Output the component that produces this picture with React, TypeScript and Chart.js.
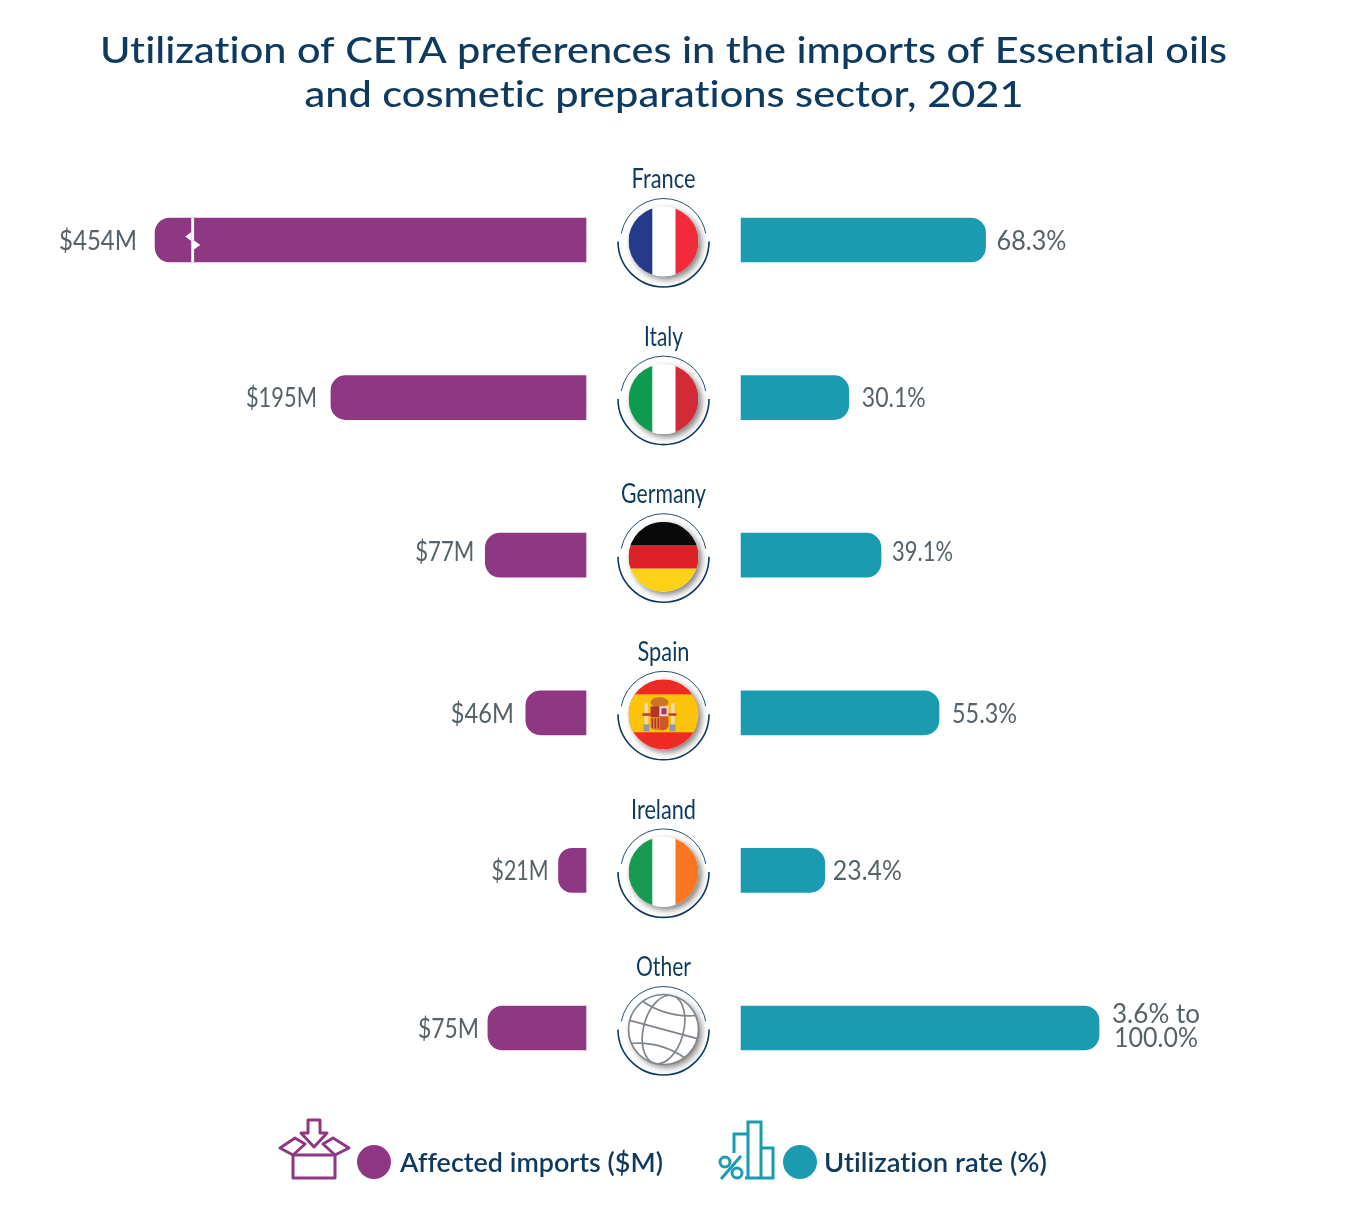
import React, { useEffect, useRef } from "react";
import { Chart, registerables, LinearScale } from "chart.js";

const countries = ["France", "Italy", "Germany", "Spain", "Ireland", "Other"];
const affectedImports = [454, 195, 77, 46, 21, 75];
const utilizationRate = [68.3, 30.1, 39.1, 55.3, 23.4, 100];
const affectedLabels = ["$454M", "$195M", "$77M", "$46M", "$21M", "$75M"];
const utilizationLabels = [["68.3%"], ["30.1%"], ["39.1%"], ["55.3%"], ["23.4%"], ["3.6% to", "100.0%"]];
const titleLines = [
  "Utilization of CETA preferences in the imports of Essential oils",
  "and cosmetic preparations sector, 2021",
];
const seriesNames = ["Affected imports ($M)", "Utilization rate (%)"];

const PURPLE = "#8e3883";
const TEAL = "#1a9bb0";
const NAVY = "#0f3a5f";
const GREY = "#566168";
const FONT = "Lato, sans-serif";

// Axis with a break: values beyond the break are compressed (the first bar is cut).
const BREAK_AT = 301;
const BREAK_K = 0.186;
class BrokenScale extends LinearScale {
  static id = "broken";
  static defaults = LinearScale.defaults;
  getPixelForValue(v: number) {
    const c = v > BREAK_AT ? BREAK_AT + (v - BREAK_AT) * BREAK_K : v;
    return super.getPixelForValue(c);
  }
}
Chart.register(...registerables, BrokenScale);

function fitText(ctx: any, text: string, x: number, y: number, width: number, size: number, weight: number, color: string, align = "center") {
  ctx.save();
  ctx.font = `${weight} ${size}px ${FONT}`;
  ctx.letterSpacing = "0.01px"; // switches off the "ti" ligatures
  ctx.fillStyle = color;
  ctx.textBaseline = "middle";
  ctx.textAlign = "left";
  const m = ctx.measureText(text).width;
  const s = width / m;
  const left = align === "center" ? x - width / 2 : align === "right" ? x - width : x;
  ctx.translate(left, y);
  ctx.scale(s, 1);
  ctx.fillText(text, 0, 0);
  ctx.restore();
}

function drawFlag(ctx: any, name: string, cx: number, cy: number) {
  const r = 35;
  ctx.save();
  ctx.shadowColor = "rgba(0,0,0,0.5)";
  ctx.shadowBlur = 6;
  ctx.shadowOffsetX = 3;
  ctx.shadowOffsetY = 3;
  ctx.fillStyle = "#fff";
  ctx.beginPath();
  ctx.arc(cx, cy, r, 0, Math.PI * 2);
  ctx.fill();
  ctx.restore();

  ctx.save();
  ctx.beginPath();
  ctx.arc(cx, cy, r, 0, Math.PI * 2);
  ctx.clip();
  const L = cx - r;
  const T = cy - r;
  const D = 2 * r;
  const vert = (a: string, b: string, c: string) => {
    ctx.fillStyle = a; ctx.fillRect(L, T, 24, D);
    ctx.fillStyle = b; ctx.fillRect(L + 24, T, 23, D);
    ctx.fillStyle = c; ctx.fillRect(L + 47, T, 23, D);
  };
  if (name === "France") vert("#253a8a", "#ffffff", "#ef2b3c");
  if (name === "Italy") vert("#0f9b4f", "#ffffff", "#d22b38");
  if (name === "Ireland") vert("#169b50", "#ffffff", "#f97720");
  if (name === "Germany") {
    ctx.fillStyle = "#0a0a0a"; ctx.fillRect(L, T, D, 24);
    ctx.fillStyle = "#dd1f26"; ctx.fillRect(L, T + 24, D, 23);
    ctx.fillStyle = "#fdd116"; ctx.fillRect(L, T + 47, D, 23);
  }
  if (name === "Spain") {
    ctx.fillStyle = "#ee2a24"; ctx.fillRect(L, T, D, D);
    ctx.fillStyle = "#fcc30b"; ctx.fillRect(L, T + 15, D, 38);
    // crest
    const x0 = cx - 4, y0 = cy + 1;
    ctx.fillStyle = "#c9762a"; ctx.beginPath(); ctx.ellipse(x0, y0 - 13, 9, 5, 0, 0, Math.PI * 2); ctx.fill();
    ctx.fillStyle = "#b5342a"; ctx.fillRect(x0 - 9, y0 - 9, 9, 11);
    ctx.fillStyle = "#e9d6c8"; ctx.fillRect(x0, y0 - 9, 9, 10);
    ctx.fillStyle = "#a8366b"; ctx.fillRect(x0 + 2, y0 - 7, 5, 6);
    ctx.fillStyle = "#d98a2b"; ctx.beginPath(); ctx.roundRect(x0 - 9, y0 + 2, 9, 13, [0, 0, 0, 5]); ctx.fill();
    ctx.fillStyle = "#d0572a"; ctx.beginPath(); ctx.roundRect(x0, y0 + 1, 9, 14, [0, 0, 5, 0]); ctx.fill();
    ctx.fillStyle = "#b5342a";
    for (let i = 0; i < 3; i++) ctx.fillRect(x0 - 8 + i * 3, y0 + 3, 1.5, 10);
    ctx.fillStyle = "#8f9aa8";
    ctx.fillRect(x0 - 16, y0 + 9, 6, 7); ctx.fillRect(x0 + 10, y0 + 9, 6, 7);
    ctx.fillStyle = "#e8d9b8";
    ctx.fillRect(x0 - 15, y0 - 12, 3.5, 21); ctx.fillRect(x0 + 11.5, y0 - 12, 3.5, 21);
    ctx.fillStyle = "#c03a2b";
    ctx.fillRect(x0 - 17, y0 - 2, 8, 2.5); ctx.fillRect(x0 + 9, y0 - 2, 8, 2.5);
  }
  if (name === "Other") {
    ctx.strokeStyle = "#7f858a";
    ctx.lineWidth = 1.7;
    ctx.translate(cx, cy);
    ctx.rotate((15 * Math.PI) / 180);
    ctx.beginPath(); ctx.ellipse(0, 0, 20, 35, 0, 0, Math.PI * 2); ctx.stroke();
    ctx.beginPath(); ctx.moveTo(-35, 0); ctx.lineTo(35, 0); ctx.stroke();
    ctx.beginPath(); ctx.moveTo(-28, -22); ctx.quadraticCurveTo(0, -12, 28, -22); ctx.stroke();
    ctx.beginPath(); ctx.moveTo(-28, 22); ctx.quadraticCurveTo(0, 12, 28, 22); ctx.stroke();
  }
  ctx.restore();

  if (name === "Other") {
    ctx.save();
    ctx.strokeStyle = "#7f858a";
    ctx.lineWidth = 1.7;
    ctx.beginPath(); ctx.arc(cx, cy, r, 0, Math.PI * 2); ctx.stroke();
    ctx.restore();
  }

  // ring
  ctx.save();
  ctx.strokeStyle = NAVY;
  ctx.lineWidth = 0.9;
  ctx.beginPath(); ctx.arc(cx, cy, 43, Math.PI * 1.06, Math.PI * 1.94); ctx.stroke();
  ctx.lineWidth = 1.6;
  ctx.beginPath(); ctx.arc(cx, cy, 45.5, 0, Math.PI); ctx.stroke();
  ctx.restore();
}

function drawBoxIcon(ctx: any) {
  ctx.save();
  ctx.strokeStyle = PURPLE;
  ctx.lineWidth = 3;
  ctx.lineJoin = "round";
  const poly = (pts: number[][], close = true) => {
    ctx.beginPath();
    pts.forEach((p, i) => (i ? ctx.lineTo(p[0], p[1]) : ctx.moveTo(p[0], p[1])));
    if (close) ctx.closePath();
    ctx.stroke();
  };
  poly([[308, 1120], [320, 1120], [320, 1133], [327, 1133], [314, 1147], [301, 1133], [308, 1133]]);
  poly([[293, 1155], [335, 1155], [335, 1178], [293, 1178]]);
  poly([[293, 1155], [280, 1148], [295, 1138], [305, 1144]]);
  poly([[335, 1155], [349, 1148], [333, 1138], [323, 1144]]);
  ctx.restore();
}

function drawBarsIcon(ctx: any) {
  ctx.save();
  ctx.strokeStyle = TEAL;
  ctx.lineWidth = 3;
  const poly = (pts: number[][], close = false) => {
    ctx.beginPath();
    pts.forEach((p, i) => (i ? ctx.lineTo(p[0], p[1]) : ctx.moveTo(p[0], p[1])));
    if (close) ctx.closePath();
    ctx.stroke();
  };
  poly([[734, 1153], [734, 1134], [748, 1134]]);
  poly([[748, 1178], [748, 1122], [761, 1122], [761, 1178]]);
  poly([[761, 1148], [773, 1148], [773, 1178], [745, 1178]]);
  ctx.beginPath(); ctx.arc(725, 1162, 5, 0, Math.PI * 2); ctx.stroke();
  ctx.beginPath(); ctx.arc(737, 1173, 5, 0, Math.PI * 2); ctx.stroke();
  poly([[721, 1179], [741, 1156]]);
  ctx.restore();
}

const leftGaps = [18, 14, 11, 12, 10, 9];
const leftWidths = [78, 71, 59, 63, 57, 61];
const rightGaps = [11, 13, 11, 13, 8];
const rightWidths = [70, 64, 61, 65, 69];

const overlay = {
  id: "overlay",
  afterDatasetsDraw(chart: any) {
    const { ctx, scales } = chart;
    const yS = scales.y;
    const xL = scales.xL;
    const xR = scales.xR;
    const cx = (xL.getPixelForValue(0) + xR.getPixelForValue(0)) / 2;

    // title
    fitText(ctx, titleLines[0], 663.5, 51.5, 1127, 37, 500, NAVY);
    fitText(ctx, titleLines[1], 664, 95.5, 719, 37, 500, NAVY);

    // axis-break mark on the cut bar
    const bx = xL.getPixelForValue(BREAK_AT);
    const by = yS.getPixelForValue(0);
    ctx.save();
    ctx.fillStyle = "#fff";
    ctx.fillRect(bx - 1, by - 22, 2.8, 44);
    ctx.beginPath();
    ctx.moveTo(bx - 7, by - 3.5); ctx.lineTo(bx - 1, by - 8); ctx.lineTo(bx - 1, by + 1); ctx.closePath();
    ctx.moveTo(bx + 8, by + 5); ctx.lineTo(bx + 1, by); ctx.lineTo(bx + 1, by + 10); ctx.closePath();
    ctx.fill();
    ctx.restore();

    countries.forEach((name, i) => {
      const y = yS.getPixelForValue(i);
      fitText(ctx, name, cx, y - 60.5, [64, 39, 85, 52, 65, 55][i], 27, 400, NAVY);
      drawFlag(ctx, name, cx, y + 1.5);

      const lEnd = xL.getPixelForValue(affectedImports[i]);
      fitText(ctx, affectedLabels[i], lEnd - leftGaps[i], y + (i === 2 ? -2.5 : 1), leftWidths[i], 27, 400, GREY, "right");

      const rEnd = xR.getPixelForValue(utilizationRate[i]);
      const lines = utilizationLabels[i];
      if (lines.length === 1) {
        fitText(ctx, lines[0], rEnd + rightGaps[i], y + (i === 2 ? -2.5 : 1), rightWidths[i], 27, 400, GREY, "left");
      } else {
        fitText(ctx, lines[0], 1156, y - 13.5, 88, 27, 400, GREY);
        fitText(ctx, lines[1], 1156, y + 10.5, 84, 27, 400, GREY);
      }
    });

    // legend
    drawBoxIcon(ctx);
    drawBarsIcon(ctx);
    const ds = chart.data.datasets;
    ctx.save();
    ctx.fillStyle = ds[0].backgroundColor;
    ctx.beginPath(); ctx.arc(374, 1162, 17, 0, Math.PI * 2); ctx.fill();
    ctx.fillStyle = ds[1].backgroundColor;
    ctx.beginPath(); ctx.arc(800, 1162, 17, 0, Math.PI * 2); ctx.fill();
    ctx.restore();
    fitText(ctx, ds[0].label, 400, 1163, 263, 27, 600, NAVY, "left");
    fitText(ctx, ds[1].label, 824, 1163, 223, 27, 600, NAVY, "left");
  },
};

export default function App() {
  const ref = useRef<HTMLCanvasElement | null>(null);
  useEffect(() => {
    const chart = new Chart(ref.current as HTMLCanvasElement, {
      type: "bar",
      data: {
        labels: countries,
        datasets: [
          {
            label: seriesNames[0],
            data: affectedImports,
            xAxisID: "xL",
            backgroundColor: PURPLE,
            borderRadius: { topLeft: 15, bottomLeft: 15, topRight: 0, bottomRight: 0 },
            borderSkipped: false,
            barThickness: 44,
            grouped: false,
          },
          {
            label: seriesNames[1],
            data: utilizationRate,
            xAxisID: "xR",
            backgroundColor: TEAL,
            borderRadius: { topRight: 15, bottomRight: 15, topLeft: 0, bottomLeft: 0 },
            borderSkipped: false,
            barThickness: 44,
            grouped: false,
          },
        ],
      },
      options: {
        indexAxis: "y",
        responsive: false,
        animation: false,
        events: [],
        layout: { padding: { top: 161.2, bottom: 125.2, left: 0, right: 0 } },
        plugins: { legend: { display: false }, tooltip: { enabled: false }, title: { display: false } },
        scales: {
          y: { type: "category", display: false, grid: { display: false } },
          xL: { type: "broken", display: false, reverse: true, min: -584.1, max: 448, grid: { display: false } },
          xR: { type: "linear", display: false, min: -207, max: 170.1, grid: { display: false } },
        },
      } as any,
      plugins: [overlay],
    } as any);
    return () => chart.destroy();
  }, []);
  return (
    <div style={{ position: "absolute", left: 0, top: 0, width: 1350, height: 1232, background: "#fff", overflow: "hidden" }}>
      <canvas ref={ref} width={1350} height={1232} style={{ display: "block" }} />
    </div>
  );
}
